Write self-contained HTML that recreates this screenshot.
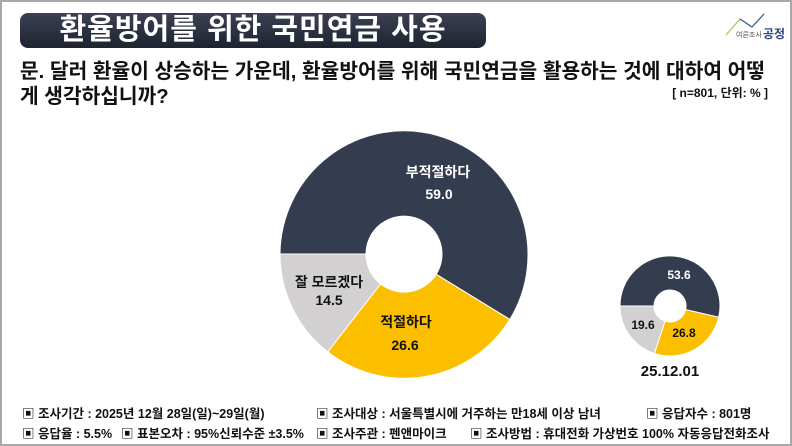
<!DOCTYPE html>
<html><head><meta charset="utf-8"><style>
body{margin:0;width:792px;height:446px;overflow:hidden;background:#fff;font-family:"Liberation Sans","Noto Sans CJK KR",sans-serif;}
.frame{position:absolute;left:0;top:0;width:788px;height:442px;border:2px solid #a8a8a8;}
.title{position:absolute;left:20px;top:13px;width:466px;height:35px;border-radius:8px;background:linear-gradient(#3a4152,#1e2330);color:#fff;font-weight:bold;font-size:29px;line-height:35px;text-align:center;letter-spacing:1px;}
.q{position:absolute;left:20px;font-weight:bold;font-size:20.3px;color:#111;white-space:nowrap;}
.n{position:absolute;right:24px;top:84px;font-size:12px;font-weight:bold;color:#111;}
.f{position:absolute;font-size:12.5px;color:#111;white-space:nowrap;font-weight:bold;}
</style></head><body>
<div class="frame"></div>
<div class="title">환율방어를 위한 국민연금 사용</div>
<div class="q" style="top:54px">문. 달러 환율이 상승하는 가운데, 환율방어를 위해 국민연금을 활용하는 것에 대하여 어떻</div>
<div class="q" style="top:79px">게 생각하십니까?</div>
<div class="n">[ n=801, 단위: % ]</div>
<svg style="position:absolute;left:700px;top:10px" width="90" height="30">
<polyline points="26,25 40,9 52,17 64,4" fill="none" stroke="#9acd32" stroke-width="1.2"/>
<polyline points="40,9 52,17 64,4" fill="none" stroke="#3a5a8c" stroke-width="1.2"/>
<text x="36" y="27" font-size="7" fill="#555">여론조사</text>
<text x="63" y="28" font-size="12" font-weight="bold" fill="#2c4a8a">공정</text>
</svg>
<svg style="position:absolute;left:0;top:0" width="792" height="446">
<g stroke="#fff" stroke-width="1">
<path d="M280,254 A124,124 0 1,1 509.8,319.5 L436.2,274.3 A38,38 0 1,0 366,254 Z" fill="#343d4f"/>
<path d="M509.8,319.5 A124,124 0 0,1 327.7,351.8 L380.6,284 A38,38 0 0,0 436.2,274.3 Z" fill="#fbbf00"/>
<path d="M327.7,351.8 A124,124 0 0,1 280,254 L366,254 A38,38 0 0,0 380.6,284 Z" fill="#d2d0d1"/>
<path d="M620,306 A50,50 0 1,1 718.7,317.2 L685.6,309.6 A16,16 0 1,0 654,306 Z" fill="#343d4f"/>
<path d="M718.7,317.2 A50,50 0 0,1 654.4,353.5 L665,321.2 A16,16 0 0,0 685.6,309.6 Z" fill="#fbbf00"/>
<path d="M654.4,353.5 A50,50 0 0,1 620,306 L654,306 A16,16 0 0,0 665,321.2 Z" fill="#d2d0d1"/>
</g>
<g text-anchor="middle" font-family="Liberation Sans,Noto Sans CJK KR,sans-serif" font-weight="bold">
<text x="438" y="177" font-size="14" fill="#fff">부적절하다</text>
<text x="439" y="199" font-size="14" fill="#fff">59.0</text>
<text x="329" y="287" font-size="14" fill="#111">잘 모르겠다</text>
<text x="329" y="305" font-size="14" fill="#111">14.5</text>
<text x="406" y="327" font-size="14" fill="#111">적절하다</text>
<text x="405" y="350" font-size="14" fill="#111">26.6</text>
<text x="679" y="279" font-size="12" fill="#fff">53.6</text>
<text x="643" y="329" font-size="12" fill="#111">19.6</text>
<text x="684" y="337" font-size="12" fill="#111">26.8</text>
<text x="670" y="376" font-size="15" fill="#111">25.12.01</text>
</g>
</svg>
<div class="f" style="left:22px;top:403px">▣ 조사기간 : 2025년 12월 28일(일)~29일(월)</div>
<div class="f" style="left:316px;top:403px">▣ 조사대상 : 서울특별시에 거주하는 만18세 이상 남녀</div>
<div class="f" style="left:646px;top:403px">▣ 응답자수 : 801명</div>
<div class="f" style="left:22px;top:423px">▣ 응답율 : 5.5%</div>
<div class="f" style="left:121px;top:423px">▣ 표본오차 : 95%신뢰수준 ±3.5%</div>
<div class="f" style="left:316px;top:423px">▣ 조사주관 : 펜앤마이크</div>
<div class="f" style="left:470px;top:423px">▣ 조사방법 : 휴대전화 가상번호 100% 자동응답전화조사</div>
</body></html>
